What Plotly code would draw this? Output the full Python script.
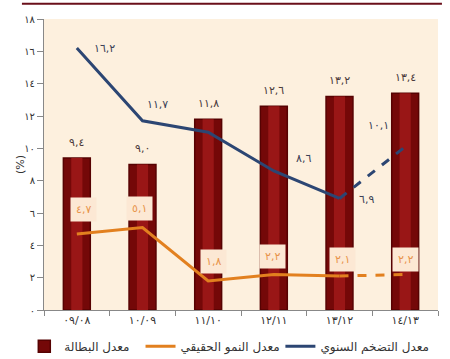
import plotly.graph_objects as go

categories = ["٠٩/٠٨", "١٠/٠٩", "١١/١٠", "١٢/١١", "١٣/١٢", "١٤/١٣"]
unemployment = [9.4, 9.0, 11.8, 12.6, 13.2, 13.4]
growth = [4.7, 5.1, 1.8, 2.2, 2.1, 2.2]
inflation = [16.2, 11.7, 11.0, 8.6, 6.9, 10.1]
unemp_labels = ["٩,٤", "٩,٠", "١١,٨", "١٢,٦", "١٣,٢", "١٣,٤"]
growth_labels = ["٤,٧", "٥,١", "١,٨", "٢,٢", "٢,١", "٢,٢"]
infl_labels = ["١٦,٢", "١١,٧", "", "٨,٦", "٦,٩", "١٠,١"]
ytick_vals = [0, 2, 4, 6, 8, 10, 12, 14, 16, 18]
ytick_text = ["٠", "٢", "٤", "٦", "٨", "١٠", "١٢", "١٤", "١٦", "١٨"]
names = ["معدل البطالة", "معدل النمو الحقيقي", "معدل التضخم السنوي"]

FONT = "DejaVu Sans"
NAVY = "#2c4673"
ORANGE = "#e2801f"

fig = go.Figure()
fig.add_trace(go.Bar(x=categories, y=unemployment, width=0.41, name=names[0], legend="legend",
                     marker=dict(color="#740808", line=dict(color="#560202", width=1.5))))
fig.add_trace(go.Bar(x=categories, y=unemployment, width=0.17, showlegend=False,
                     hoverinfo="skip", marker=dict(color="#991616", line=dict(width=0))))
# growth
fig.add_trace(go.Scatter(x=categories[:5], y=growth[:5], mode="lines", name=names[1],
                         legend="legend2", line=dict(color=ORANGE, width=3)))
fig.add_trace(go.Scatter(x=categories[4:], y=growth[4:], mode="lines", showlegend=False,
                         line=dict(color=ORANGE, width=3, dash="dash")))
# inflation
fig.add_trace(go.Scatter(x=categories[:5], y=inflation[:5], mode="lines", name=names[2],
                         legend="legend3", line=dict(color=NAVY, width=3)))
fig.add_trace(go.Scatter(x=categories[4:], y=inflation[4:], mode="lines", showlegend=False,
                         line=dict(color=NAVY, width=3, dash="dash")))

annotations = []
for c, v, t in zip(categories, unemployment, unemp_labels):
    annotations.append(dict(x=c, y=v, text=t, showarrow=False, yshift=16,
                            font=dict(family=FONT, size=11, color="#4a3a3a")))
g_off = [(7, 25), (-3, 19), (5, 19), (-1, 18), (3, 17), (0, 15)]
for c, v, t, (dx, dy) in zip(categories, growth, growth_labels, g_off):
    annotations.append(dict(x=c, y=v, text=t, showarrow=False, xshift=dx, yshift=dy,
                            bgcolor="#fce8d4", borderpad=5,
                            font=dict(family=FONT, size=11, color="#e8944a")))
i_off = [(28, 0), (15, 16), (0, 0), (30, 12), (27, -1), (-27, 21)]
for c, v, t, (dx, dy) in zip(categories, inflation, infl_labels, i_off):
    if t:
        annotations.append(dict(x=c, y=v, text=t, showarrow=False, xshift=dx, yshift=dy,
                                font=dict(family=FONT, size=11, color="#3a3f55")))
annotations.append(dict(xref="paper", yref="paper", x=-0.081, y=0.5, text="(%)",
                        textangle=-90, showarrow=False,
                        font=dict(family=FONT, size=11, color="#333")))

leg_common = dict(orientation="h", y=-0.075, yanchor="top", xanchor="left",
                  font=dict(family=FONT, size=12, color="#333"), bgcolor="rgba(0,0,0,0)",
                  itemwidth=30)
fig.update_layout(
    width=450, height=359,
    margin=dict(l=44, r=12, t=19, b=49, autoexpand=False),
    paper_bgcolor="white", plot_bgcolor="#fdf0de",
    barmode="overlay",
    font=dict(family=FONT, size=11, color="#333"),
    annotations=annotations,
    showlegend=True,
    legend=dict(x=-0.05, **leg_common),
    legend2=dict(x=0.245, **leg_common),
    legend3=dict(x=0.6, **leg_common),
    shapes=[dict(type="line", xref="paper", yref="paper", x0=-0.056, x1=1.01,
                 y0=1.052, y1=1.052, line=dict(color="#6a0f1a", width=2))],
)
fig.update_xaxes(type="category", tickson="boundaries", ticks="outside", ticklen=5,
                 tickcolor="#888", showline=True, linecolor="#888", linewidth=1,
                 showgrid=False, automargin=False,
                 tickfont=dict(family=FONT, size=11, color="#333"))
fig.update_yaxes(range=[0, 18], tickvals=ytick_vals, ticktext=ytick_text, ticks="outside",
                 ticklen=6, tickcolor="#888", showline=True, linecolor="#888", linewidth=1,
                 showgrid=False, zeroline=False, automargin=False,
                 tickfont=dict(family=FONT, size=10, color="#333"))

fig.write_html("out.html", config={"displayModeBar": False},
               post_script="document.body.style.margin='0';document.body.style.padding='0';")
